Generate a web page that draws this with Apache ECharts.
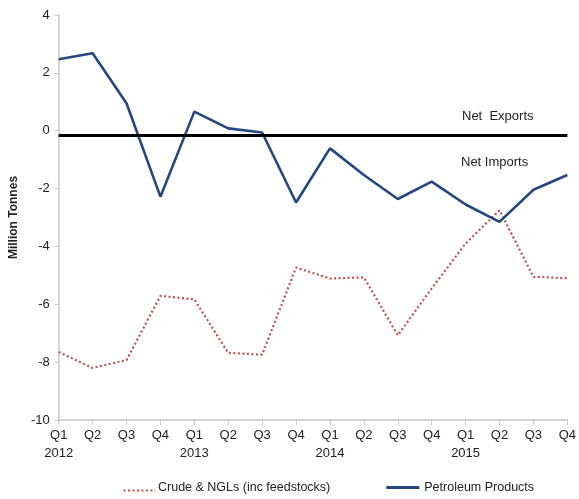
<!DOCTYPE html>
<html>
<head>
<meta charset="utf-8">
<script src="https://cdn.jsdelivr.net/npm/echarts@6/dist/echarts.min.js"></script>
<style>
  html, body { margin: 0; padding: 0; background: #fff; }
</style>
</head>
<body>
<!-- chart container -->
<div id="chart" style="width: 579px;height:499px;"></div>
<script>
// quarters, year shown under each Q1
const quarters = ['Q1', 'Q2', 'Q3', 'Q4', 'Q1', 'Q2', 'Q3', 'Q4', 'Q1', 'Q2', 'Q3', 'Q4', 'Q1', 'Q2', 'Q3', 'Q4']
const years = ['2012', '', '', '', '2013', '', '', '', '2014', '', '', '', '2015', '', '', '']
const crudeNGLs = [-7.65, -8.2, -7.93, -5.71, -5.83, -7.68, -7.74, -4.73, -5.11, -5.07, -7.07, -5.45, -3.9, -2.75, -5.05, -5.1]
const petroleumProducts = [2.47, 2.68, 0.95, -2.28, 0.66, 0.08, -0.06, -2.48, -0.61, -1.53, -2.36, -1.76, -2.55, -3.15, -2.04, -1.53]
const balanceLine = -0.15
const yTicks = [4, 2, 0, -2, -4, -6, -8, -10]

const categories = quarters.map((q, i) => years[i] ? q + '\n' + years[i] : q)

const myChart = echarts.init(document.getElementById('chart'))
const font = 'Liberation Sans, Arial, sans-serif'
const option = {
  animation: false,
  textStyle: { fontFamily: font },
  grid: {
    left: 57,
    right: 8,
    top: 15,
    bottom: 79
  },
  legend: {
    top: 481,
    left: 120,
    padding: 0,
    itemGap: 56,
    itemWidth: 33,
    itemHeight: 3,
    textStyle: { fontSize: 12.5, color: '#222', fontFamily: font },
    data: [
      { name: 'Crude & NGLs (inc feedstocks)', icon: 'none' },
      { name: 'Petroleum Products', icon: 'rect' }
    ]
  },
  xAxis: {
    type: 'category',
    boundaryGap: false,
    data: categories,
    axisLine: { onZero: false, lineStyle: { color: '#c8c8c8', width: 1.5 } },
    axisTick: { show: true, alignWithLabel: true, length: 5, lineStyle: { color: '#c8c8c8' } },
    axisLabel: {
      interval: 0,
      color: '#222',
      fontSize: 13,
      lineHeight: 18,
      margin: 6,
      fontFamily: font
    }
  },
  yAxis: {
    type: 'value',
    min: -10,
    max: 4,
    interval: 2,
    name: 'Million Tonnes',
    nameLocation: 'middle',
    nameGap: 38,
    nameTextStyle: { fontWeight: 'bold', fontSize: 12, color: '#222', fontFamily: font },
    axisLine: { show: true, lineStyle: { color: '#c8c8c8', width: 1.5 } },
    axisTick: { show: true, length: 4, lineStyle: { color: '#c8c8c8' } },
    splitLine: { show: false },
    axisLabel: {
      color: '#222',
      fontSize: 13,
      margin: 9,
      fontFamily: font,
      formatter: v => (yTicks.indexOf(v) >= 0 ? String(v) : '')
    }
  },
  series: [
    {
      name: 'Crude & NGLs (inc feedstocks)',
      type: 'line',
      data: crudeNGLs,
      symbol: 'none',
      color: '#c0504d',
      lineStyle: { color: '#c0504d', width: 2.2, type: [2, 2.5] },
      z: 2
    },
    {
      name: 'Petroleum Products',
      type: 'line',
      data: petroleumProducts,
      symbol: 'none',
      color: '#23487f',
      lineStyle: { color: '#23487f', width: 2.6 },
      z: 3,
      markLine: {
        silent: true,
        symbol: 'none',
        label: { show: false },
        lineStyle: { color: '#000', width: 3.2, type: 'solid' },
        data: [{ yAxis: balanceLine }]
      }
    }
  ],
  graphic: [
    {
      type: 'text',
      left: 462,
      top: 110,
      style: { text: 'Net  Exports', fontSize: 13, fill: '#222', fontFamily: font }
    },
    {
      type: 'text',
      left: 461,
      top: 156,
      style: { text: 'Net Imports', fontSize: 13, fill: '#222', fontFamily: font }
    }
  ]
}
// legend dotted icon for the crude series
option.graphic.push({
  type: 'line',
  left: 121,
  top: 488,
  shape: { x1: 0, y1: 0, x2: 32, y2: 0 },
  style: { stroke: '#c0504d', lineWidth: 2.2, lineDash: [2, 2.5] }
})
myChart.setOption(option)
</script>
</body>
</html>
